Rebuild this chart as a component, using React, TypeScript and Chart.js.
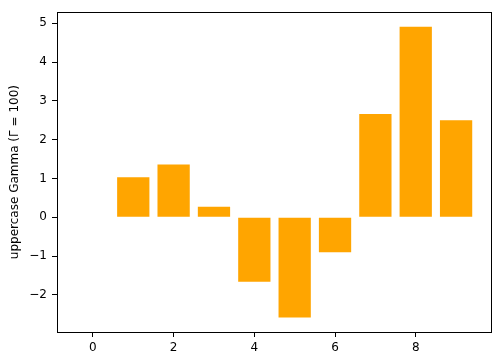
import React, { useEffect, useRef } from "react";
import { Chart, registerables } from "chart.js";

Chart.register(...registerables);

const positions = [0, 1, 2, 3, 4, 5, 6, 7, 8, 9];
const values = [0, 1.03, 1.36, 0.27, -1.66, -2.58, -0.9, 2.66, 4.91, 2.5];
const yTitle = "uppercase Gamma (\u0393 = 100)";
const barColor = "#FFA500";
const FONT = "'DejaVu Sans', sans-serif";

const frame = {
  id: "frame",
  afterDraw(chart: any) {
    const { ctx, chartArea } = chart;
    ctx.save();
    ctx.strokeStyle = "#000";
    ctx.lineWidth = 1;
    ctx.strokeRect(
      Math.round(chartArea.left) + 0.5,
      Math.round(chartArea.top) + 0.5,
      Math.round(chartArea.right - chartArea.left) - 1,
      Math.round(chartArea.bottom - chartArea.top)
    );
    ctx.restore();
  },
};

export default function App() {
  const ref = useRef<HTMLCanvasElement>(null);
  useEffect(() => {
    if (!ref.current) return;
    const vmin = Math.min(...values);
    const vmax = Math.max(...values);
    const r = vmax - vmin;
    const xr = 9.4 - -0.4;
    const chart = new Chart(ref.current, {
      type: "bar",
      data: {
        datasets: [
          {
            data: positions.map((x, i) => ({ x, y: values[i] })),
            backgroundColor: barColor,
            borderWidth: 0,
            categoryPercentage: 1,
            barPercentage: 0.8,
          } as any,
        ],
      },
      options: {
        animation: false,
        responsive: false,
        maintainAspectRatio: false,
        layout: { padding: { top: 9, right: 8, left: 0, bottom: 0 } },
        plugins: { legend: { display: false }, tooltip: { enabled: false } },
        scales: {
          x: {
            type: "linear",
            min: -0.4 - 0.05 * xr,
            max: 9.4 + 0.05 * xr,
            offset: false,
            grid: { offset: false, drawOnChartArea: false, tickLength: 5, tickColor: "#000" },
            border: { display: false },
            ticks: {
              stepSize: 2,
              includeBounds: false,
              padding: 4,
              color: "#000",
              font: { family: FONT, size: 12 },
              maxRotation: 0,
            },
            afterFit(scale: any) {
              scale.height = 30;
            },
          },
          y: {
            type: "linear",
            min: vmin - 0.05 * r,
            max: vmax + 0.05 * r,
            grid: { drawOnChartArea: false, tickLength: 5, tickColor: "#000" },
            border: { display: false },
            ticks: {
              stepSize: 1,
              includeBounds: false,
              padding: 5,
              color: "#000",
              font: { family: FONT, size: 12 },
              callback: (v: any) => String(v).replace("-", "\u2212"),
            },
            title: {
              display: true,
              text: yTitle,
              color: "#000",
              font: { family: FONT, size: 12 },
              padding: { top: 8, bottom: 0 },
            },
            afterFit(scale: any) {
              scale.width = 57;
            },
          },
        },
      },
      plugins: [frame],
    });
    return () => chart.destroy();
  }, []);
  return (
    <div style={{ position: "absolute", left: 0, top: 0, width: 500, height: 362 }}>
      <canvas ref={ref} width={500} height={362} style={{ width: 500, height: 362 }} />
    </div>
  );
}
